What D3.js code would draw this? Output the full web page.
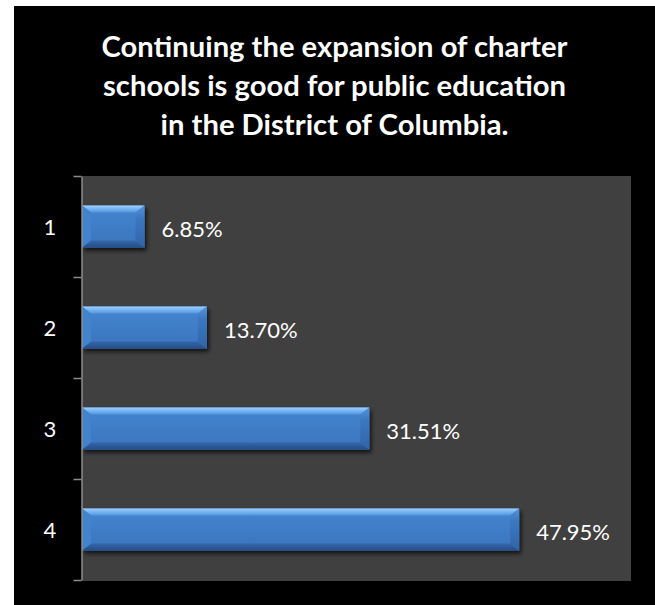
<!DOCTYPE html>
<html>
<head>
<meta charset="utf-8">
<script src="https://cdn.jsdelivr.net/npm/d3@7"></script>
<style>
  html, body { margin: 0; padding: 0; background: #ffffff; }
  svg { display: block; }
</style>
</head>
<body>
<svg id="chart" width="655" height="605"></svg>
<script>
// Survey responses (rating 1-4) and share of respondents
const categories = ["1", "2", "3", "4"];
const percentages = [6.85, 13.70, 31.51, 47.95];
const valueLabels = ["6.85%", "13.70%", "31.51%", "47.95%"];
const titleLines = [
  "Continuing the expansion of charter",
  "schools is good for public education",
  "in the District of Columbia."
];

const W = 655, H = 605;
const svg = d3.select("#chart");

// layout
const panel = { x: 14, y: 6 };
const plot = { left: 82, right: 631, top: 176, bottom: 580 };
const xMax = 60;

const x = d3.scaleLinear().domain([0, xMax]).range([plot.left, plot.left + 547]);
const y = d3.scaleBand().domain(categories).range([plot.top, plot.bottom]).padding(0);
const barH = y.bandwidth() * 0.415;

const defs = svg.append("defs");
const shadow = defs.append("filter").attr("id", "barShadow")
  .attr("x", "-5%").attr("y", "-30%").attr("width", "115%").attr("height", "170%");
shadow.append("feDropShadow")
  .attr("dx", 2).attr("dy", 3).attr("stdDeviation", 2.2)
  .attr("flood-color", "#000").attr("flood-opacity", 0.7);

function vGrad(id, stops) {
  const g = defs.append("linearGradient").attr("id", id)
    .attr("x1", 0).attr("y1", 0).attr("x2", 0).attr("y2", 1);
  stops.forEach(([o, c]) => g.append("stop").attr("offset", o).attr("stop-color", c));
}
vGrad("topFace", [[0, "#9ad2ff"], [0.5, "#74b3f2"], [1, "#5394de"]]);
vGrad("midFace", [[0, "#4486d0"], [1, "#3a74bd"]]);
vGrad("botFace", [[0, "#3468ad"], [1, "#254e86"]]);
vGrad("rightFace", [[0, "#5592d8"], [0.3, "#3b77c1"], [1, "#3165a8"]]);

// black backdrop and plot area
svg.append("rect").attr("x", panel.x).attr("y", panel.y)
  .attr("width", W - panel.x).attr("height", H - panel.y).attr("fill", "#000");
svg.append("rect").attr("x", plot.left).attr("y", plot.top)
  .attr("width", plot.right - plot.left).attr("height", plot.bottom - plot.top + 1)
  .attr("fill", "#404040");

// title
const titleBaselines = [57, 96, 135];
const titleWidths = [466, 463, 348];
svg.append("g").selectAll("text").data(titleLines).join("text")
  .attr("x", 334.5)
  .attr("y", (d, i) => titleBaselines[i])
  .attr("text-anchor", "middle")
  .attr("textLength", (d, i) => titleWidths[i])
  .attr("lengthAdjust", "spacingAndGlyphs")
  .attr("font-family", "Lato, 'Open Sans', sans-serif")
  .attr("font-weight", "bold")
  .attr("font-size", 28)
  .attr("fill", "#ffffff")
  .text(d => d);

// bars with bevelled faces
const bv = 9, bh = 7;
const bars = svg.append("g").selectAll("g.bar").data(percentages).join("g")
  .attr("class", "bar")
  .attr("filter", "url(#barShadow)");

bars.each(function (v, i) {
  const g = d3.select(this);
  const x0 = x(0), x1 = x(v);
  const y0 = y(categories[i]) + (y.bandwidth() - barH) / 2, y1 = y0 + barH;
  const poly = pts => pts.map(p => p.join(",")).join(" ");
  g.append("rect").attr("x", x0).attr("y", y0).attr("width", x1 - x0).attr("height", barH)
    .attr("fill", "url(#midFace)");
  g.append("polygon").attr("fill", "url(#topFace)")
    .attr("points", poly([[x0, y0], [x1, y0], [x1 - bv, y0 + bh], [x0 + bv, y0 + bh]]));
  g.append("polygon").attr("fill", "url(#botFace)")
    .attr("points", poly([[x0, y1], [x1, y1], [x1 - bv, y1 - bh], [x0 + bv, y1 - bh]]));
  g.append("polygon").attr("fill", "url(#rightFace)")
    .attr("points", poly([[x1, y0], [x1, y1], [x1 - bv, y1 - bh], [x1 - bv, y0 + bh]]));
  g.append("polygon").attr("fill", "#4283cd")
    .attr("points", poly([[x0, y0], [x0, y1], [x0 + bv, y1 - bh], [x0 + bv, y0 + bh]]));
});

// value labels
svg.append("g").selectAll("text").data(percentages).join("text")
  .attr("x", d => x(d) + 17)
  .attr("y", (d, i) => y(categories[i]) + y.bandwidth() / 2 + 10)
  .attr("font-family", "Lato, 'Open Sans', sans-serif")
  .attr("font-size", 22)
  .attr("fill", "#ffffff")
  .text((d, i) => valueLabels[i]);

// category axis: tick marks at band boundaries, labels at band centres
const yEdge = d3.scaleLinear().domain([0, categories.length]).range([plot.top, plot.bottom]);
const axisG = svg.append("g").attr("transform", `translate(${plot.left - 0.5},0)`)
  .call(d3.axisLeft(yEdge).tickValues(d3.range(categories.length + 1))
    .tickFormat("").tickSizeInner(8).tickSizeOuter(0));
axisG.selectAll("path, line").attr("stroke", "#8c8c8c").attr("stroke-width", 1.5);

svg.append("g").selectAll("text").data(categories).join("text")
  .attr("x", 50)
  .attr("y", d => y(d) + y.bandwidth() / 2 + 8.5)
  .attr("text-anchor", "middle")
  .attr("font-family", "Lato, 'Open Sans', sans-serif")
  .attr("font-size", 22)
  .attr("fill", "#ffffff")
  .text(d => d);
</script>
</body>
</html>
